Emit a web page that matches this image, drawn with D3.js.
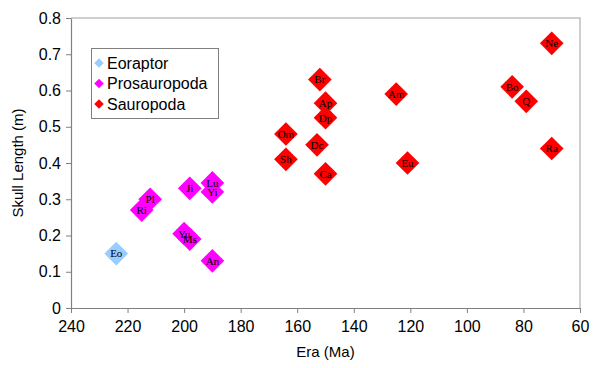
<!DOCTYPE html>
<html>
<head>
<meta charset="utf-8">
<title>Skull length vs era</title>
<script src="https://unpkg.com/d3@7.8.2/dist/d3.min.js"></script>
<style>
  body { margin: 0; background: #fff; }
  svg { display: block; }
</style>
</head>
<body>
<div id="chart"></div>
<script>
// Eoraptor
const eoNames = ["Eo"];
const eoEra = [224];
const eoSkull = [0.15];

// Prosauropoda
const proNames = ["Pl", "Ri", "Ji", "Lu", "Yi", "Yu", "Ms", "An"];
const proEra = [212, 215, 198, 190, 190, 200, 198, 190];
const proSkull = [0.30, 0.27, 0.33, 0.345, 0.32, 0.205, 0.19, 0.13];

// Sauropoda
const sauNames = ["Br", "Ap", "Dp", "Dc", "Ca", "Om", "Sh", "Am", "Eu", "Ne", "Bo", "Q", "Ra"];
const sauEra = [152, 150, 150, 153, 150, 164, 164, 125, 121, 70, 84, 79, 70];
const sauSkull = [0.63, 0.565, 0.525, 0.45, 0.37, 0.48, 0.41, 0.59, 0.40, 0.73, 0.61, 0.57, 0.44];

const xTicks = [240, 220, 200, 180, 160, 140, 120, 100, 80, 60];
const yTicks = [0, 0.1, 0.2, 0.3, 0.4, 0.5, 0.6, 0.7, 0.8];

const groups = [
  { name: "Eoraptor", color: "#99ccff", names: eoNames, era: eoEra, skull: eoSkull },
  { name: "Prosauropoda", color: "#ff00ff", names: proNames, era: proEra, skull: proSkull },
  { name: "Sauropoda", color: "#ff0000", names: sauNames, era: sauEra, skull: sauSkull }
];

const width = 600, height = 368;
const plot = { left: 71, right: 580, top: 18, bottom: 308 };
const sans = "Liberation Sans, Arial, sans-serif";

const svg = d3.select("#chart").append("svg")
  .attr("width", width)
  .attr("height", height);

// era runs backwards: older on the left
const x = d3.scaleLinear().domain([240, 60]).range([plot.left, plot.right]);
const y = d3.scaleLinear().domain([0, 0.8]).range([plot.bottom, plot.top]);

// plot area border (top + right)
svg.append("path")
  .attr("d", `M${plot.left},${plot.top}H${plot.right}V${plot.bottom}`)
  .attr("fill", "none")
  .attr("stroke", "#c0c0c0")
  .attr("stroke-width", 1.5);

const xAxis = svg.append("g")
  .attr("transform", `translate(0,${plot.bottom})`)
  .call(d3.axisBottom(x).tickValues(xTicks).tickSize(5).tickSizeOuter(0).tickFormat(d3.format("d")));

const yAxis = svg.append("g")
  .attr("transform", `translate(${plot.left},0)`)
  .call(d3.axisLeft(y).tickValues(yTicks).tickSize(5).tickSizeOuter(0).tickFormat(d => d === 0 ? "0" : d3.format(".1f")(d)));

[xAxis, yAxis].forEach(g => {
  g.select(".domain").attr("stroke", "#808080").attr("stroke-width", 1.2);
  g.selectAll(".tick line").attr("stroke", "#808080");
  g.selectAll("text")
    .attr("font-family", sans)
    .attr("font-size", 16)
    .attr("fill", "#000");
});
xAxis.selectAll("text").attr("dy", "0.71em").attr("y", 13);
yAxis.selectAll("text").attr("x", -10);

svg.append("text")
  .attr("x", (plot.left + plot.right) / 2)
  .attr("y", 357)
  .attr("text-anchor", "middle")
  .attr("font-family", sans)
  .attr("font-size", 15)
  .text("Era (Ma)");

svg.append("text")
  .attr("transform", `translate(23,${(plot.top + plot.bottom) / 2}) rotate(-90)`)
  .attr("text-anchor", "middle")
  .attr("font-family", sans)
  .attr("font-size", 15)
  .text("Skull Length (m)");

const diamond = d3.symbol().type(d3.symbolSquare).size(280);

groups.forEach(grp => {
  const pts = grp.names.map((n, i) => ({ n, era: grp.era[i], skull: grp.skull[i] }));
  const g = svg.append("g");
  g.selectAll("path")
    .data(pts)
    .enter()
    .append("path")
    .attr("d", diamond)
    .attr("transform", d => `translate(${x(d.era)},${y(d.skull)}) rotate(45)`)
    .attr("fill", grp.color);
  g.selectAll("text")
    .data(pts)
    .enter()
    .append("text")
    .attr("x", d => x(d.era))
    .attr("y", d => y(d.skull))
    .attr("dy", "0.35em")
    .attr("text-anchor", "middle")
    .attr("font-family", "Liberation Serif, Times New Roman, serif")
    .attr("font-size", 11)
    .attr("fill", "#000")
    .text(d => d.n);
});

// legend
const legend = svg.append("g");
legend.append("rect")
  .attr("x", 91.5).attr("y", 48.5)
  .attr("width", 127).attr("height", 70)
  .attr("fill", "#fff")
  .attr("stroke", "#808080");

const legendRow = d3.scalePoint().domain(groups.map(g => g.name)).range([63, 104]);
const smallDiamond = d3.symbol().type(d3.symbolSquare).size(45);

legend.selectAll("path.key")
  .data(groups)
  .enter()
  .append("path")
  .attr("class", "key")
  .attr("d", smallDiamond)
  .attr("transform", d => `translate(${99},${legendRow(d.name)}) rotate(45)`)
  .attr("fill", d => d.color);

legend.selectAll("text")
  .data(groups)
  .enter()
  .append("text")
  .attr("x", 107)
  .attr("y", d => legendRow(d.name))
  .attr("dy", "0.35em")
  .attr("font-family", sans)
  .attr("font-size", 16)
  .text(d => d.name);
</script>
</body>
</html>
